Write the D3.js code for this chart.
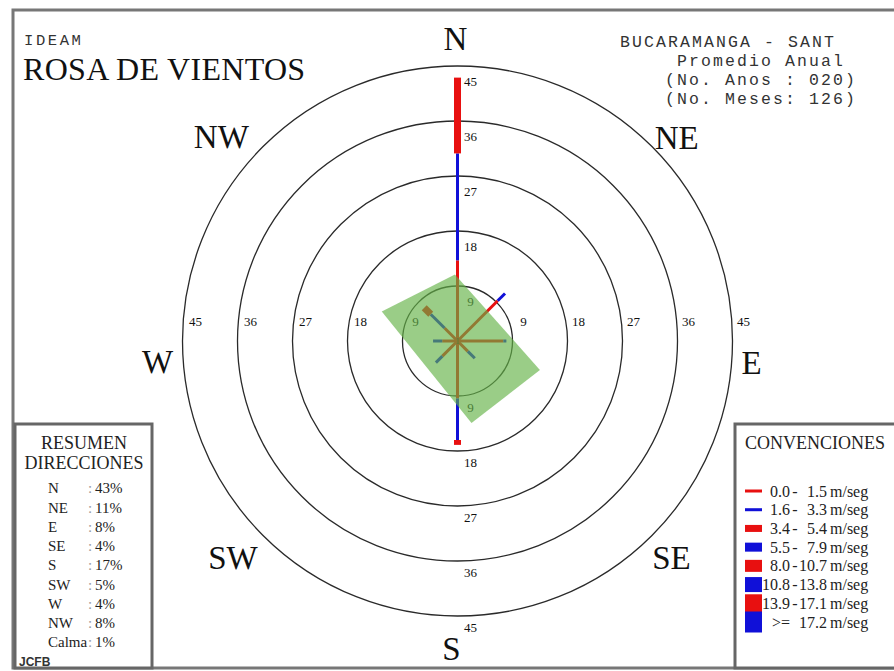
<!DOCTYPE html>
<html><head><meta charset="utf-8">
<script src="https://cdn.jsdelivr.net/npm/d3@7/dist/d3.min.js"></script>
<style>body{margin:0;background:#fff} svg{display:block}</style>
</head><body><svg id="chart" width="894" height="671"></svg>
<script>
// ---------------- data ----------------
const directions = ["N","NE","E","SE","S","SW","W","NW"];
const bearings   = [0, 45, 90, 135, 180, 225, 270, 315];
// frequency (%) by speed class, per direction (stacked outward)
const freqC0 = [13.2, 9.3, 7.5, 2.4, 9.4, 3.5, 2.5, 3.0];   // 0.0 - 1.5
const freqC1 = [17.5, 1.7, 0.5, 1.6, 6.8, 1.5, 1.5, 3.2];   // 1.6 - 3.3
const freqC2 = [12.4, 0.0, 0.0, 0.0, 0.8, 0.0, 0.0, 1.5];   // 3.4 - 5.4
const freqC3 = [0, 0, 0, 0, 0, 0, 0, 0];
const freqC4 = [0, 0, 0, 0, 0, 0, 0, 0];
const freqC5 = [0, 0, 0, 0, 0, 0, 0, 0];
const freqC6 = [0, 0, 0, 0, 0, 0, 0, 0];
const freqC7 = [0, 0, 0, 0, 0, 0, 0, 0];
const speedLo = ["0.0","1.6","3.4","5.5","8.0","10.8","13.9",">="];
const speedHi = ["1.5","3.3","5.4","7.9","10.7","13.8","17.1","17.2"];
const ringValues = [9, 18, 27, 36, 45];
const summaryLabels = ["N","NE","E","SE","S","SW","W","NW","Calma"];
const summaryPct    = ["43%","11%","8%","4%","17%","5%","4%","8%","1%"];
const calmValue = "1";
const titleLines = ["BUCARAMANGA - SANT","Promedio Anual","(No. Anos : 020)","(No. Meses: 126)"];
// shaded polygon (bearing in degrees, radius in %)
const polyBearing = [291.3, 357.8, 109.4, 170.3];
const polyRadius  = [13.3, 10.9, 14.3, 13.6];

// ---------------- layout/style ----------------
const svg = d3.select("#chart");
const cx = 457.5, cy = 341;
const r = d3.scaleLinear().domain([0, 45]).range([0, 275]);
const classColor = d3.scaleOrdinal().domain(d3.range(8))
  .range(["#e81010","#1010d8","#e81010","#1010d8","#e81010","#1010d8","#e81010","#1010d8"]);
const classWidth = d3.scaleOrdinal().domain(d3.range(8)).range([3,3,7,9,12,15,18,21]);
const rad = d => d * Math.PI / 180;
const px = (b, v) => cx + r(v) * Math.sin(rad(b));
const py = (b, v) => cy - r(v) * Math.cos(rad(b));

// outer frame
svg.append("rect").attr("x",13).attr("y",10).attr("width",892).attr("height",658)
  .attr("fill","none").attr("stroke","#777").attr("stroke-width",3);

// rings
const g = svg.append("g");
g.selectAll("circle.ring").data(ringValues).join("circle")
  .attr("cx",cx).attr("cy",cy).attr("r",d=>r(d))
  .attr("fill","none").attr("stroke","#2a2a2a").attr("stroke-width",1.3);

// ring labels
const lblFont = "'Liberation Serif','Times New Roman',serif";
ringValues.forEach(v => {
  const pos = [
    [cx + 13, cy - r(v) + 15],
    [cx + 13, cy + r(v) + 11],
    [cx - r(v) + 13, cy - 20],
    [cx + r(v) + 11, cy - 20]
  ];
  g.selectAll(null).data(pos).join("text")
    .attr("x",d=>d[0]).attr("y",d=>d[1]).attr("dy","0.35em")
    .attr("text-anchor","middle").attr("font-family",lblFont).attr("font-size",13)
    .attr("fill","#111").text(v);
});

// wind segments
const classes = [freqC0,freqC1,freqC2,freqC3,freqC4,freqC5,freqC6,freqC7];
const segs = [];
directions.forEach((d,i) => {
  let acc = 0;
  classes.forEach((arr,k) => {
    const v = arr[i];
    if (v > 0) { segs.push({b:bearings[i], from:acc, to:acc+v, k}); acc += v; }
  });
});
g.selectAll("line.seg").data(segs).join("line")
  .attr("x1",d=>px(d.b,d.from)).attr("y1",d=>py(d.b,d.from))
  .attr("x2",d=>px(d.b,d.to)).attr("y2",d=>py(d.b,d.to))
  .attr("stroke",d=>classColor(d.k)).attr("stroke-width",d=>classWidth(d.k))
  .attr("stroke-linecap","butt");

// calm label
g.append("text").attr("x",cx).attr("y",cy).attr("dy","0.35em").attr("text-anchor","middle")
  .attr("font-family",lblFont).attr("font-size",9).attr("fill","#222").text(calmValue);

// shaded polygon on top
const polyPts = polyBearing.map((b,i)=>[px(b,polyRadius[i]), py(b,polyRadius[i])]);
g.append("polygon").attr("points", polyPts.map(p=>p.join(",")).join(" "))
  .attr("fill","rgb(100,178,70)").attr("fill-opacity",0.65);

// direction labels (placed around the outer ring, with small nudges)
const dirR = {N:303, NE:300, E:294, SE:304, S:307, SW:312, W:300, NW:310};
const dirNudge = {N:[-2,0],NE:[7,9],E:[0,21],SE:[-1,1],S:[-6,0],SW:[-4,-4],W:[0,20],NW:[-17,15]};
svg.selectAll("text.dir").data(directions).join("text")
  .attr("x",(d,i)=>cx + dirR[d]*Math.sin(rad(bearings[i])) + dirNudge[d][0])
  .attr("y",(d,i)=>cy - dirR[d]*Math.cos(rad(bearings[i])) + dirNudge[d][1])
  .attr("dy","0.35em").attr("text-anchor","middle")
  .attr("font-family",lblFont).attr("font-size",33).attr("fill","#111").text(d=>d);

// titles
const mono = "'Liberation Mono','Courier New',monospace";
svg.append("text").attr("x",24).attr("y",45).attr("font-family",mono).attr("font-size",15.5)
  .attr("letter-spacing",2.6).attr("fill","#333").text("IDEAM");
svg.append("text").attr("x",23).attr("y",80).attr("font-family",lblFont).attr("font-size",32)
  .attr("letter-spacing",0.3).attr("fill","#111").text("ROSA DE VIENTOS");
const titleX = [620, 677, 665, 665];
svg.selectAll("text.rt").data(titleLines).join("text")
  .attr("x",(d,i)=>titleX[i]).attr("y",(d,i)=>47 + i*19)
  .attr("font-family",mono).attr("font-size",16.5).attr("letter-spacing",2.1)
  .attr("fill","#333").text(d=>d);

// summary box
svg.append("rect").attr("x",15).attr("y",424).attr("width",137).attr("height",244)
  .attr("fill","#fff").attr("stroke","#666").attr("stroke-width",3);
svg.append("text").attr("x",84).attr("y",449).attr("text-anchor","middle")
  .attr("font-family",lblFont).attr("font-size",18).attr("fill","#222").text("RESUMEN");
svg.append("text").attr("x",84).attr("y",469).attr("text-anchor","middle")
  .attr("font-family",lblFont).attr("font-size",18).attr("fill","#222").text("DIRECCIONES");
const rowY = d3.scaleLinear().domain([0,8]).range([488,642]);
const sg = svg.append("g").attr("font-family",lblFont).attr("font-size",15).attr("fill","#222");
sg.selectAll("text.sl").data(summaryLabels).join("text")
  .attr("x",48).attr("y",(d,i)=>rowY(i)).attr("dy","0.35em").text(d=>d);
sg.selectAll("text.sc").data(summaryLabels).join("text")
  .attr("x",88).attr("y",(d,i)=>rowY(i)).attr("dy","0.35em").attr("fill","#999").text(":");
sg.selectAll("text.sv").data(summaryPct).join("text")
  .attr("x",95).attr("y",(d,i)=>rowY(i)).attr("dy","0.35em").text(d=>d);
svg.append("text").attr("x",19).attr("y",662).attr("dy","0.35em")
  .attr("font-family","'Liberation Sans',Arial,sans-serif").attr("font-size",12)
  .attr("font-weight","bold").attr("fill","#333").text("JCFB");

// legend box
svg.append("rect").attr("x",735).attr("y",424).attr("width",170).attr("height",244)
  .attr("fill","#fff").attr("stroke","#666").attr("stroke-width",3);
svg.append("text").attr("x",745).attr("y",449)
  .attr("font-family",lblFont).attr("font-size",18).attr("fill","#222").text("CONVENCIONES");
const legY = d3.scaleLinear().domain([0,7]).range([491,622]);
const lg = svg.append("g");
lg.selectAll("rect.mk").data(d3.range(8)).join("rect")
  .attr("x",745).attr("width",17)
  .attr("y",k=>legY(k)-classWidth(k)/2).attr("height",k=>classWidth(k))
  .attr("fill",k=>classColor(k));
const lt = lg.append("g").attr("font-family",lblFont).attr("font-size",16).attr("fill","#222");
lt.selectAll("text.lo").data(speedLo).join("text")
  .attr("x",790).attr("y",(d,i)=>legY(i)).attr("dy","0.35em").attr("text-anchor","end").text(d=>d);
lt.selectAll("text.da").data(speedLo).join("text")
  .attr("x",795).attr("y",(d,i)=>legY(i)).attr("dy","0.35em").attr("text-anchor","middle")
  .text(d=>d===">=" ? "" : "-");
lt.selectAll("text.hi").data(speedHi).join("text")
  .attr("x",827).attr("y",(d,i)=>legY(i)).attr("dy","0.35em").attr("text-anchor","end").text(d=>d);
lt.selectAll("text.un").data(speedHi).join("text")
  .attr("x",830).attr("y",(d,i)=>legY(i)).attr("dy","0.35em").text("m/seg");
</script></body></html>
